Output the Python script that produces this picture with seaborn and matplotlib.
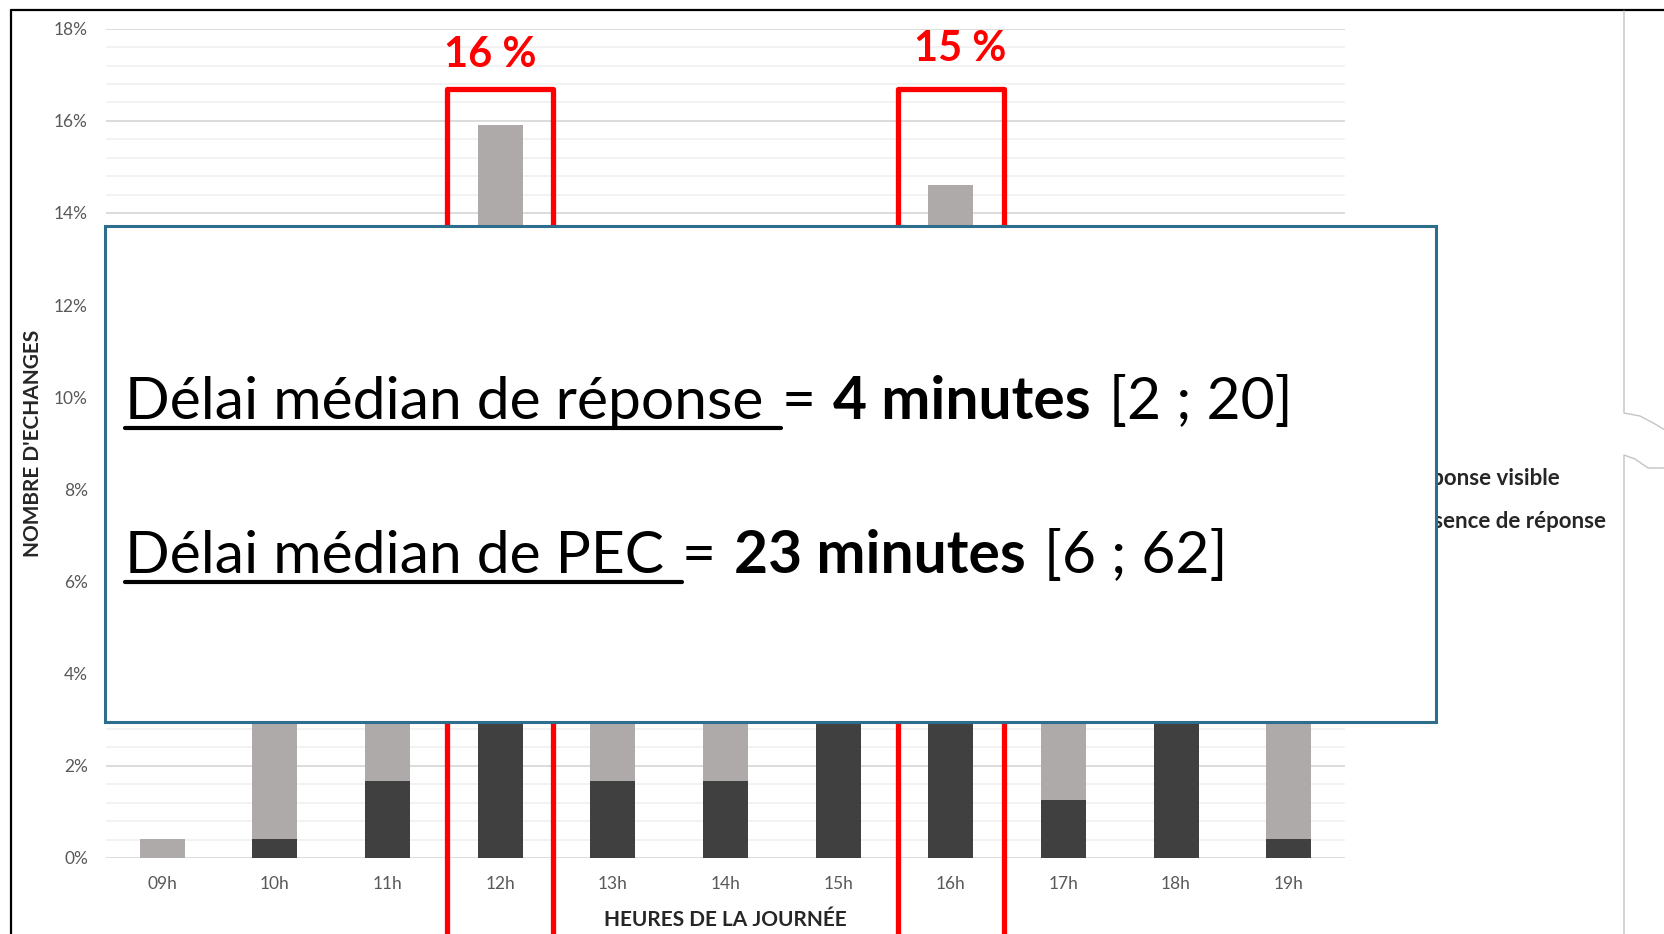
import seaborn as sns
import matplotlib.pyplot as plt
import numpy as np
from matplotlib.patches import Rectangle, Patch
from matplotlib.lines import Line2D
from matplotlib.ticker import MultipleLocator, FuncFormatter

# share of exchanges per hour of the day (%)
heures = ["09h", "10h", "11h", "12h", "13h", "14h", "15h", "16h", "17h", "18h", "19h"]
total = [0.42, 5.0, 8.4, 15.9, 10.1, 9.2, 9.7, 14.6, 8.8, 7.6, 10.3]
reponse_visible = [0.0, 0.42, 1.68, 6.3, 1.68, 1.68, 4.2, 5.5, 1.26, 3.8, 0.42]
legend_labels = ["Réponse visible", "Absence de réponse"]
pics = ["12h", "16h"]
pics_labels = ["16 %", "15 %"]

W, H = 1665, 934
LIGHT = "#AEAAAA"
DARK = "#404040"

sns.set_style("white")
plt.rcParams["font.family"] = ["Lato", "DejaVu Sans"]

fig = plt.figure(figsize=(W / 100, H / 100), dpi=100)
ax = fig.add_axes([106 / W, 1 - 858 / H, (1345 - 106) / W, (858 - 28.7) / H])

sns.barplot(x=heures, y=total, color=LIGHT, saturation=1, width=0.4,
            linewidth=0, errorbar=None, ax=ax, zorder=2)
sns.barplot(x=heures, y=reponse_visible, color=DARK, saturation=1, width=0.4,
            linewidth=0, errorbar=None, ax=ax, zorder=3)

ax.set_ylim(0, 18)
ax.set_xlim(-0.5, len(heures) - 0.5)
ax.yaxis.set_major_locator(MultipleLocator(2))
ax.yaxis.set_minor_locator(MultipleLocator(0.4))
ax.yaxis.set_major_formatter(FuncFormatter(lambda v, p: f"{v:.0f}%"))
ax.grid(axis="y", which="major", color="#d9d9d9", lw=1.3, zorder=0)
ax.grid(axis="y", which="minor", color="#f0f0f0", lw=1.2, zorder=0)
ax.set_axisbelow(True)
sns.despine(ax=ax, left=True, bottom=True)
ax.tick_params(axis="both", which="both", length=0, labelsize=12.5,
               labelcolor="#595959")
ax.tick_params(axis="y", pad=13)
ax.tick_params(axis="x", pad=13)

ax.set_xlabel("HEURES DE LA JOURNÉE", fontsize=15, fontweight="bold",
              color="#262626", labelpad=13)
ax.set_ylabel("NOMBRE D'ECHANGES", fontsize=15, fontweight="bold",
              color="#262626")
ax.yaxis.set_label_coords((43 - 106) / (1345 - 106), 0.5)

# red highlight frames around the two peaks
offsets = [-0.09, 0.08]
baselines = [17.17, 17.29]
for h, lab, off, yb in zip(pics, pics_labels, offsets, baselines):
    i = heures.index(h)
    ax.add_line(Line2D([i - 0.47, i - 0.47, i + 0.47, i + 0.47], [-3, 16.7, 16.7, -3],
                       color="red", lw=3.8, clip_on=False, zorder=4))
    ax.text(i + off, yb, lab, color="red", fontsize=30, fontweight="bold",
            ha="center", va="baseline", zorder=4)

handles = [Patch(color=DARK), Patch(color=LIGHT)]
fig.legend(handles, legend_labels, loc="center left", bbox_to_anchor=(1378 / W, 1 - 500 / H),
           frameon=False, borderpad=0, borderaxespad=0, handlelength=0.7, handletextpad=0.5,
           labelspacing=1.0, prop={"family": "Lato", "weight": "bold", "size": 16})

# outer frame of the slide
fig.add_artist(Line2D([11 / W, 11 / W], [0, 1 - 10 / H], color="black", lw=1.6))
fig.add_artist(Line2D([11 / W, 1], [1 - 10 / H, 1 - 10 / H], color="black", lw=1.6))
fig.add_artist(Line2D(np.array([1624, 1624, 1640, 1655, 1665]) / W,
                      1 - np.array([11, 413, 416, 424, 430]) / H, color="#c4c4c4", lw=1))
fig.add_artist(Line2D(np.array([1624, 1624, 1635, 1648, 1665]) / W,
                      1 - np.array([934, 455, 459, 468, 468]) / H, color="#c4c4c4", lw=1))

# white overlay box with the medians
fig.add_artist(Rectangle((105 / W, 1 - 722 / H), (1436 - 105) / W, (722 - 226) / H,
                         facecolor="white", edgecolor="#2F6D8C", lw=2.2, zorder=10))

fig.canvas.draw()
r = fig.canvas.get_renderer()
FS = 42.3
GAP = 18


def write_line(y_px, parts):
    x = 125
    for txt, weight, underline in parts:
        t = fig.text(x / W, 1 - y_px / H, txt, fontsize=FS, fontweight=weight,
                     ha="left", va="baseline", color="black", zorder=11)
        w = t.get_window_extent(renderer=r).width
        if underline:
            fig.add_artist(Line2D([x / W, (x + w + GAP) / W],
                                  [1 - (y_px + 9) / H, 1 - (y_px + 9) / H],
                                  color="black", lw=3, zorder=11))
        x += w + GAP


write_line(419, [("Délai médian de réponse", "normal", True), ("=", "normal", False),
                 ("4 minutes", "bold", False), ("[2 ; 20]", "normal", False)])
write_line(573, [("Délai médian de PEC", "normal", True), ("=", "normal", False),
                 ("23 minutes", "bold", False), ("[6 ; 62]", "normal", False)])

fig.savefig("out.png", dpi=100)
